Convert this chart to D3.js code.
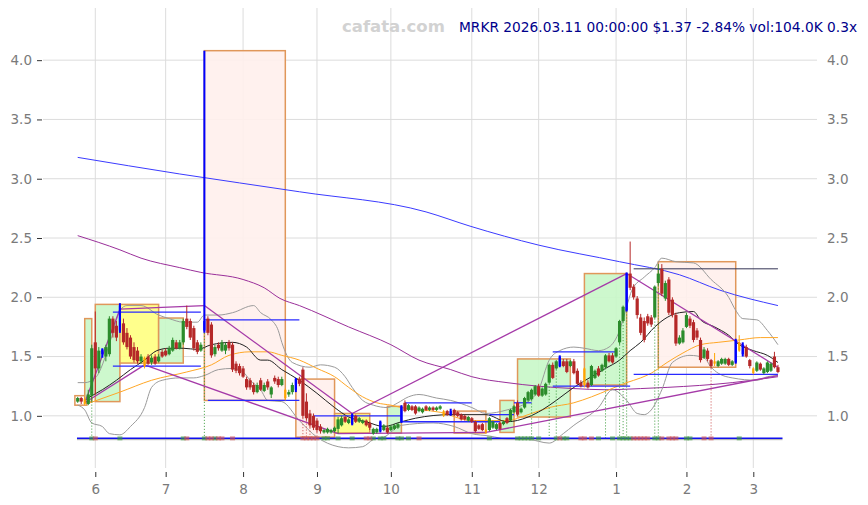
<!DOCTYPE html>
<html><head><meta charset="utf-8">
<script src="https://cdn.jsdelivr.net/npm/d3@7"></script>
<style>body{margin:0;background:#fff;} svg{display:block;font-family:"DejaVu Sans",sans-serif;}</style>
</head><body><svg id="c" width="868" height="505"></svg>
<script>
// ---------- DATA ----------
const monthTicks = [5,25,47,68,89,112,131,153,173,192];
const monthLabels = ['6','7','8','9','10','11','12','1','2','3'];
const yTicks = [1.0,1.5,2.0,2.5,3.0,3.5,4.0];
const titleText = "MRKR 2026.03.11 00:00:00 $1.37 -2.84% vol:104.0K 0.3x";
const watermark = "cafata.com";

// daily candles [open, high, low, close], trading-day index 0..199
const candles = [
[1.12,1.16,1.11,1.15],[1.15,1.16,1.10,1.12],[1.14,1.16,1.09,1.10],[1.10,1.22,1.09,1.18],[1.17,1.60,1.12,1.57],
[1.62,1.88,1.18,1.40],[1.40,1.58,1.36,1.55],[1.52,1.57,1.49,1.56],[1.50,1.60,1.46,1.58],[1.52,1.84,1.50,1.82],
[1.82,1.84,1.66,1.70],[1.76,1.80,1.63,1.66],[1.72,1.95,1.70,1.93],[1.78,1.82,1.60,1.62],[1.70,1.74,1.56,1.58],
[1.66,1.68,1.48,1.50],[1.58,1.62,1.45,1.47],[1.55,1.58,1.44,1.46],[1.46,1.52,1.44,1.50],[1.42,1.50,1.40,1.49],
[1.50,1.52,1.43,1.44],[1.45,1.51,1.43,1.49],[1.50,1.52,1.43,1.44],[1.46,1.52,1.45,1.50],[1.54,1.56,1.49,1.50],
[1.55,1.57,1.50,1.51],[1.52,1.59,1.51,1.57],[1.55,1.66,1.54,1.64],[1.62,1.64,1.56,1.57],[1.57,1.64,1.56,1.62],
[1.62,1.82,1.60,1.80],[1.82,1.93,1.73,1.75],[1.80,1.82,1.64,1.66],[1.74,1.76,1.55,1.57],[1.62,1.64,1.52,1.54],
[1.55,1.62,1.54,1.60],[1.72,4.08,1.70,1.80],[1.82,1.84,1.68,1.70],[1.77,1.79,1.49,1.51],[1.52,1.60,1.50,1.58],
[1.60,1.62,1.55,1.57],[1.55,1.64,1.54,1.62],[1.55,1.62,1.52,1.60],[1.62,1.64,1.55,1.57],[1.60,1.62,1.37,1.39],
[1.44,1.46,1.36,1.38],[1.42,1.44,1.34,1.36],[1.40,1.42,1.32,1.33],[1.31,1.33,1.22,1.24],[1.30,1.32,1.22,1.24],
[1.26,1.28,1.18,1.20],[1.20,1.28,1.19,1.26],[1.30,1.32,1.21,1.22],[1.21,1.28,1.20,1.26],[1.29,1.31,1.22,1.24],
[1.18,1.25,1.15,1.24],[1.32,1.34,1.27,1.29],[1.31,1.33,1.24,1.26],[1.26,1.33,1.25,1.31],[1.22,1.23,1.13,1.15],
[1.18,1.22,1.16,1.20],[1.20,1.28,1.18,1.26],[1.22,1.32,1.20,1.31],[1.31,1.33,1.25,1.27],[1.39,1.41,0.98,1.00],
[1.12,1.19,0.96,0.98],[1.02,1.05,0.90,0.92],[1.00,1.02,0.88,0.90],[0.96,0.98,0.86,0.88],[0.91,0.93,0.85,0.87],
[0.86,0.89,0.85,0.88],[0.86,0.90,0.85,0.89],[0.86,0.89,0.85,0.88],[0.87,0.91,0.86,0.90],[0.89,0.99,0.85,0.97],
[0.92,1.00,0.91,0.98],[0.99,1.00,0.94,0.95],[0.94,0.98,0.93,0.97],[0.93,1.02,0.92,1.01],[1.00,1.01,0.94,0.95],
[0.95,0.99,0.94,0.98],[0.94,0.97,0.93,0.96],[0.96,0.97,0.91,0.92],[0.94,0.95,0.88,0.90],[0.85,0.90,0.84,0.89],
[0.86,0.90,0.85,0.89],[0.87,0.96,0.86,0.95],[0.88,0.93,0.87,0.92],[0.90,0.91,0.85,0.86],[0.88,0.92,0.87,0.91],
[0.89,0.93,0.88,0.92],[0.90,0.94,0.89,0.93],[0.95,1.09,0.94,1.08],[1.11,1.13,1.03,1.04],[1.05,1.10,1.04,1.09],
[1.08,1.09,1.04,1.05],[1.08,1.09,1.01,1.02],[1.04,1.08,1.03,1.07],[1.03,1.07,1.02,1.06],[1.08,1.09,1.04,1.05],
[1.05,1.08,1.04,1.07],[1.07,1.08,1.04,1.05],[1.05,1.08,1.04,1.07],[1.06,1.09,1.05,1.08],[1.04,1.05,0.99,1.00],
[1.04,1.05,1.00,1.01],[1.01,1.06,1.00,1.04],[1.05,1.06,1.00,1.01],[1.03,1.04,0.99,1.00],[1.01,1.02,0.96,0.97],
[1.00,1.01,0.96,0.97],[0.96,1.00,0.95,0.99],[0.98,0.99,0.94,0.95],[0.95,0.96,0.86,0.87],[0.92,0.93,0.88,0.89],
[0.93,0.94,0.87,0.88],[0.88,0.89,0.85,0.86],[0.88,0.99,0.87,0.98],[0.90,0.96,0.89,0.95],[0.89,0.94,0.88,0.93],
[0.94,0.95,0.88,0.89],[0.93,0.96,0.92,0.95],[0.98,0.99,0.93,0.94],[0.96,1.06,0.95,1.05],[1.03,1.09,1.02,1.08],
[1.11,1.13,1.00,1.01],[1.03,1.07,1.02,1.06],[1.07,1.16,1.06,1.15],[1.13,1.21,1.12,1.20],[1.14,1.23,1.13,1.22],
[1.18,1.26,1.17,1.25],[1.25,1.27,1.16,1.17],[1.17,1.24,1.16,1.23],[1.18,1.28,1.17,1.27],[1.28,1.44,1.27,1.43],
[1.43,1.45,1.31,1.32],[1.40,1.47,1.39,1.46],[1.42,1.51,1.41,1.50],[1.46,1.48,1.41,1.42],[1.46,1.48,1.36,1.37],
[1.42,1.47,1.41,1.46],[1.46,1.48,1.35,1.36],[1.38,1.40,1.26,1.27],[1.28,1.30,1.24,1.25],[1.26,1.41,1.24,1.40],
[1.28,1.30,1.23,1.24],[1.26,1.43,1.25,1.42],[1.32,1.39,1.31,1.38],[1.40,1.42,1.33,1.34],[1.38,1.44,1.37,1.43],
[1.41,1.52,1.40,1.51],[1.51,1.53,1.45,1.46],[1.51,1.53,1.44,1.45],[1.50,1.58,1.49,1.57],[1.62,1.81,1.60,1.80],
[1.80,1.93,1.79,1.92],[1.89,2.21,1.88,2.20],[2.20,2.47,2.06,2.08],[2.09,2.11,1.98,2.00],[1.99,2.01,1.82,1.85],
[1.83,1.86,1.68,1.70],[1.80,1.83,1.62,1.64],[1.84,1.86,1.76,1.78],[1.83,1.85,1.75,1.77],[1.83,2.10,1.82,2.09],
[2.12,2.28,2.10,2.20],[2.24,2.28,2.01,2.03],[1.99,2.14,1.97,2.12],[2.15,2.17,1.85,1.87],[1.98,2.00,1.83,1.85],
[1.85,1.87,1.59,1.61],[1.61,1.68,1.60,1.66],[1.62,1.74,1.61,1.72],[1.75,1.87,1.74,1.85],[1.82,1.84,1.74,1.76],
[1.79,1.81,1.62,1.64],[1.72,1.74,1.64,1.66],[1.64,1.66,1.45,1.47],[1.49,1.58,1.48,1.56],[1.55,1.57,1.46,1.48],
[1.47,1.48,1.40,1.42],[1.46,1.53,1.42,1.44],[1.42,1.47,1.41,1.46],[1.44,1.49,1.43,1.48],[1.44,1.49,1.43,1.48],
[1.48,1.49,1.42,1.43],[1.43,1.47,1.42,1.46],[1.45,1.65,1.44,1.64],[1.62,1.68,1.54,1.55],[1.52,1.62,1.50,1.60],
[1.58,1.60,1.49,1.50],[1.47,1.48,1.40,1.42],[1.40,1.41,1.35,1.36],[1.38,1.46,1.37,1.45],[1.44,1.45,1.38,1.39],
[1.36,1.41,1.35,1.40],[1.37,1.46,1.36,1.45],[1.38,1.45,1.37,1.44],[1.50,1.54,1.40,1.41],[1.41,1.43,1.36,1.37]
];
const blueCandles = [7,12,36,62,78,86,92,106,137,156,187,189];
const orangeCandles = [2,19,59,104,116,144,181,188,192];

// boxes [startIdx, endIdx, low, high, fill]
const boxes = [
[-0.8,2.6,1.09,1.17,'none'],
[2,4,1.12,1.82,'green'],[5,12,1.12,1.94,'green'],[12,23,1.445,1.94,'yellow'],[23,30,1.445,1.825,'green'],
[36,59,1.13,4.08,'pink'],[62,73,0.82,1.31,'pink'],[73,83,0.855,1.02,'yellow'],[88,92,0.855,1.08,'green'],
[107,116,0.855,1.04,'pink'],[120,124,0.86,1.13,'green'],[125,140,0.99,1.48,'green'],[144,156,1.26,2.20,'green'],
[165,187,1.41,2.30,'pink']
];

// indicator lines [idx, value]
const bbUpper = [[0,1.28],[2,1.28],[5,1.32],[10,1.70],[12,1.89],[14,1.93],[18,1.93],[23,1.85],[26,1.82],[30,1.79],[34,1.79],[36,1.85],[40,1.85],[44,1.87],[50,1.93],[52,1.87],[55,1.81],[57,1.72],[58,1.62],[61,1.45],[66,1.41],[69,1.43],[73,1.41],[76,1.33],[78,1.24],[81,1.13],[84,1.09],[88,1.07],[91,1.11],[94,1.16],[97,1.18],[102,1.15],[106,1.13],[112,1.07],[116,1.02],[122,1.05],[128,1.12],[131,1.22],[134,1.47],[137,1.55],[141,1.58],[144,1.57],[148,1.55],[151,1.58],[154,1.72],[156,1.92],[157.5,2.06],[161,2.17],[164,2.25],[166,2.33],[170,2.30],[175,2.29],[180,2.15],[185,2.00],[187,1.89],[189,1.82],[193,1.81],[196,1.72],[199,1.60]];
const bbLower = [[0,1.09],[2,1.05],[4,0.94],[7,0.91],[9,0.85],[12,0.84],[15,0.91],[19,1.07],[21,1.24],[24,1.30],[29,1.32],[33,1.32],[36,1.34],[40,1.39],[44,1.40],[47,1.37],[49,1.30],[52,1.22],[54,1.13],[58,1.12],[63,0.96],[68,0.82],[74,0.74],[77,0.73],[81,0.74],[84,0.80],[87,0.82],[92,0.92],[101,0.94],[107,0.91],[112,0.85],[117,0.83],[123,0.80],[128,0.80],[134,0.77],[138,0.85],[141,0.92],[148,1.07],[152,1.22],[156,1.13],[159,1.02],[161,1.01],[163,1.05],[166,1.22],[169,1.45],[174,1.51],[178,1.49],[180,1.41],[182,1.36],[186,1.32],[193,1.30],[196,1.33],[199,1.34]];
const maShort = [[2,1.13],[3.5,1.16],[7,1.22],[11,1.30],[15,1.39],[19,1.47],[22.5,1.55],[26,1.57],[30,1.57],[34,1.56],[38,1.60],[44,1.62],[48,1.58],[52,1.47],[54,1.47],[58,1.39],[63,1.30],[68,1.19],[73,1.07],[77,0.99],[82,0.95],[87,0.91],[92,0.95],[96,0.98],[106,1.01],[116,1.01],[122,0.95],[128,0.99],[132,1.05],[136,1.13],[141,1.24],[146,1.33],[150,1.40],[154,1.47],[157,1.55],[160,1.62],[164,1.75],[167.5,1.83],[171,1.87],[175,1.88],[177,1.81],[181,1.75],[185,1.68],[188,1.60],[192,1.55],[196,1.51],[199,1.45]];
const maMid = [[3.5,1.11],[12,1.20],[21,1.30],[31,1.37],[38,1.43],[43,1.51],[49,1.54],[54,1.54],[58,1.51],[63,1.47],[68,1.40],[73,1.33],[77,1.24],[81,1.16],[85,1.11],[89,1.09],[92,1.07],[103,1.03],[112,0.96],[122,0.96],[128,1.01],[134,1.07],[141,1.11],[146,1.16],[151,1.22],[156,1.28],[160,1.32],[163,1.36],[167.5,1.45],[172,1.53],[177,1.60],[182,1.62],[188,1.64],[194,1.66],[199,1.66]];
const maLong = [[0,2.52],[12,2.40],[18,2.33],[29,2.25],[35,2.21],[47,2.15],[53,2.08],[57.5,1.99],[63,1.93],[77,1.75],[89,1.60],[97,1.47],[106,1.39],[112,1.33],[122,1.28],[131,1.25],[141,1.23],[150,1.22],[160,1.23],[167.5,1.24],[186,1.28],[199,1.33]];
const maLonger = [[0,3.18],[29,3.04],[63,2.89],[99,2.72],[111.5,2.60],[131,2.44],[154,2.30],[171,2.19],[182.5,2.06],[199,1.93]];

// zigzag trend segments [[idxA,valA],[idxB,valB]]
const zigzag = [
[[2,1.11],[12,1.90]],[[12,1.90],[36,1.93]],[[36,1.93],[78,1.02]],[[78,1.02],[156,2.20]],[[156,2.20],[199,1.41]],
[[2,1.11],[19,1.43]],[[19,1.43],[74,0.85]],[[74,0.85],[116,0.86]],[[116,0.86],[199,1.34]]
];
// horizontal levels [startIdx, endIdx, value]
const levels = [[10,35,1.875],[10,35,1.42],[36,63,1.81],[37,63,1.13],[67,92,1.00],[93,112,1.11],[92,120,0.95],[117,124,1.01],[124,129,1.11],[135,153,1.54],[135,157,1.25],[158,199,1.35]];
const darkLevels = [[158,199,2.24]];
// dotted signal lines and bottom markers
const dotGreen = [4,36,129,134,136,150,154,155,156,164,165];
const dotRed = [64,65,66,68,180];
const markGreen = [4,12,30,36,39,70,71,74,78,84,86,87,91,92,94,117,125,126,127,128,129,131,136,138,139,148,152,154,155,156,157,164,165,173,174,188];
const markRed = [5,31,37,38,40,41,44,64,65,66,67,68,82,83,97,137,143,144,146,158,159,160,161,162,166,168,169,170,178,180];
const baseLevel = 0.81;

// ---------- DRAW ----------
const svg = d3.select('#c');
const x = d3.scaleLinear().domain([-9.86,210.1]).range([43,817]);
const y = d3.scaleLinear().domain([0.56,4.44]).range([468,8]);

// grid
const g = svg.append('g');
g.selectAll('.hg').data(yTicks).enter().append('line')
  .attr('x1',43).attr('x2',817).attr('y1',d=>y(d)).attr('y2',d=>y(d))
  .attr('stroke','#dcdcdc').attr('stroke-width',1);
g.selectAll('.vg').data(monthTicks).enter().append('line')
  .attr('x1',d=>x(d)).attr('x2',d=>x(d)).attr('y1',8).attr('y2',468)
  .attr('stroke','#dcdcdc').attr('stroke-width',1);

// boxes
const fills = {green:'#c8f7c8', yellow:'#ffff80', pink:'#ffefec', none:'none'};
svg.append('g').selectAll('rect').data(boxes).enter().append('rect')
  .attr('x',d=>x(d[0])).attr('width',d=>x(d[1])-x(d[0]))
  .attr('y',d=>y(d[3])).attr('height',d=>y(d[2])-y(d[3]))
  .attr('fill',d=>fills[d[4]]).attr('fill-opacity',0.9)
  .attr('stroke','#e0975a').attr('stroke-width',1.5);

// indicator lines
const lineC = d3.line().x(d=>x(d[0])).y(d=>y(d[1])).curve(d3.curveMonotoneX);
const lineL = d3.line().x(d=>x(d[0])).y(d=>y(d[1]));
function path(data, color, w, gen){ svg.append('path').datum(data).attr('d',gen||lineC)
  .attr('fill','none').attr('stroke',color).attr('stroke-width',w); }
path(maLonger,'#3b3bff',1);
path(maLong,'#9a2f9a',1);
path(bbUpper,'#9a9a9a',1);
path(bbLower,'#9a9a9a',1);
path(maMid,'#ffa726',1);
path(maShort,'#222',1);

// zigzag
zigzag.forEach(s=>path(s,'#a53aa8',1.3,lineL));

// horizontal levels
svg.append('g').selectAll('line').data(levels).enter().append('line')
  .attr('x1',d=>x(d[0])).attr('x2',d=>x(d[1])).attr('y1',d=>y(d[2])).attr('y2',d=>y(d[2]))
  .attr('stroke','#2a2aff').attr('stroke-width',1.3);
svg.append('g').selectAll('line').data(darkLevels).enter().append('line')
  .attr('x1',d=>x(d[0])).attr('x2',d=>x(d[1])).attr('y1',d=>y(d[2])).attr('y2',d=>y(d[2]))
  .attr('stroke','#333355').attr('stroke-width',1);

// dotted signal lines
const dots = svg.append('g');
dotGreen.forEach(i=>dots.append('line').attr('x1',x(i)).attr('x2',x(i))
  .attr('y1',y(candles[i][2])).attr('y2',y(baseLevel))
  .attr('stroke','#3a9a3a').attr('stroke-width',1).attr('stroke-dasharray','1,2'));
dotRed.forEach(i=>dots.append('line').attr('x1',x(i)).attr('x2',x(i))
  .attr('y1',y(candles[i][2])).attr('y2',y(baseLevel))
  .attr('stroke','#c84848').attr('stroke-width',1).attr('stroke-dasharray','1,2'));

// candles
const cg = svg.append('g');
candles.forEach((c,i)=>{
  const [o,h,l,cl] = c;
  let col = cl>=o ? '#2b8c2b' : '#b52828';
  let bw = 3.2;
  if (blueCandles.includes(i)) { col='#0000ff'; bw=2.2; }
  if (orangeCandles.includes(i)) { col='#ffa500'; bw=2.2; }
  cg.append('line').attr('x1',x(i)).attr('x2',x(i)).attr('y1',y(h)).attr('y2',y(l))
    .attr('stroke',col).attr('stroke-width', blueCandles.includes(i)?2:1);
  const top = y(Math.max(o,cl)), bot = y(Math.min(o,cl));
  cg.append('rect').attr('x',x(i)-bw/2).attr('width',bw)
    .attr('y',top).attr('height',Math.max(1,bot-top)).attr('fill',col);
});

// base line and markers
svg.append('line').attr('x1',x(-0.2)).attr('x2',x(200.3)).attr('y1',y(baseLevel)+1.3).attr('y2',y(baseLevel)+1.3)
  .attr('stroke','#aaa').attr('stroke-width',1);
svg.append('line').attr('x1',x(-0.2)).attr('x2',x(200.3)).attr('y1',y(baseLevel)).attr('y2',y(baseLevel))
  .attr('stroke','#1010ee').attr('stroke-width',1.5);
const mk = svg.append('g');
markGreen.forEach(i=>mk.append('rect').attr('x',x(i)-2.5).attr('y',y(baseLevel)-2).attr('width',5).attr('height',4)
  .attr('fill','#3a9a3a').attr('opacity',0.6));
markRed.forEach(i=>mk.append('rect').attr('x',x(i)-2.5).attr('y',y(baseLevel)-2).attr('width',5).attr('height',4)
  .attr('fill','#d05050').attr('opacity',0.6));

// axes
const axL = d3.axisLeft(y).tickValues(yTicks).tickFormat(d3.format('.1f')).tickSize(5).tickPadding(5);
const axR = d3.axisRight(y).tickValues(yTicks).tickFormat(d3.format('.1f')).tickSize(0).tickPadding(10);
const axB = d3.axisBottom(x).tickValues(monthTicks).tickFormat((d,i)=>monthLabels[i]).tickSize(5).tickPadding(7);
function style(sel){ sel.select('.domain').remove();
  sel.selectAll('text').attr('fill','#7a7a7a').style('font-size','13.5px').style('font-family','"DejaVu Sans",sans-serif');
  sel.selectAll('line').attr('stroke','#333'); }
svg.append('g').attr('transform','translate(42,0)').call(axL).call(style);
svg.append('g').attr('transform','translate(817,0)').call(axR).call(style);
svg.append('g').attr('transform','translate(0,472)').call(axB).call(style);

// titles
svg.append('text').attr('x',342).attr('y',32).text(watermark)
  .attr('fill','#d2d2d2').style('font-weight','bold').style('font-size','16.5px');
svg.append('text').attr('x',459).attr('y',31.5).text(titleText)
  .attr('fill','#00008b').style('font-size','13.75px');
</script></body></html>
